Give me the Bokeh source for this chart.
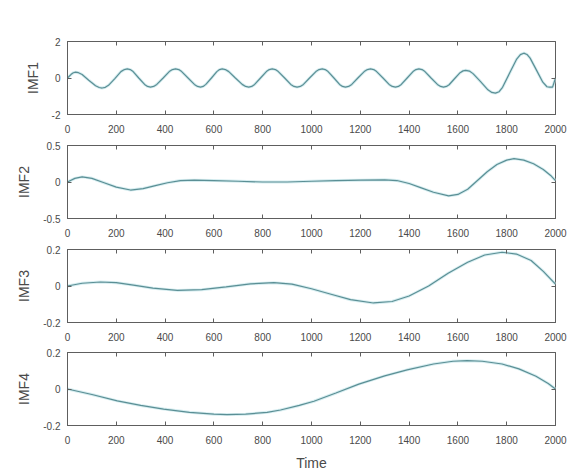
from bokeh.plotting import figure
from bokeh.layouts import column
from bokeh.models import Range1d, FixedTicker, LinearAxis, CustomJSTickFormatter
from bokeh.embed import file_html
from bokeh.resources import INLINE

# ---------------- data ----------------
x_ticks = [0, 200, 400, 600, 800, 1000, 1200, 1400, 1600, 1800, 2000]
labels = ["IMF1", "IMF2", "IMF3", "IMF4"]
y_limits = [(-2, 2), (-0.5, 0.5), (-0.2, 0.2), (-0.2, 0.2)]
y_ticks = [[-2, 0, 2], [-0.5, 0, 0.5], [-0.2, 0, 0.2], [-0.2, 0, 0.2]]

imf1_t = [0, 15, 24, 33, 45, 60, 87, 115, 130, 142, 155, 168, 194, 219, 233,
          245, 257, 269, 292, 316, 328, 340, 353, 366, 392, 417, 430, 443, 456,
          468, 494, 520, 533, 545, 556, 567, 590, 612, 623, 634, 647, 661, 688,
          716, 730, 743, 755, 767, 791, 815, 827, 839, 852, 864, 890, 915, 928,
          941, 954, 967, 992, 1018, 1031, 1044, 1056, 1068, 1092, 1115, 1127,
          1139, 1152, 1165, 1190, 1216, 1229, 1242, 1255, 1267, 1293, 1318, 1331,
          1344, 1356, 1368, 1392, 1416, 1428, 1440, 1453, 1465, 1490, 1516, 1529,
          1541, 1553, 1564, 1586, 1609, 1621, 1632, 1647, 1662, 1693, 1723, 1739,
          1754, 1769, 1783, 1812, 1841, 1856, 1870, 1883, 1896, 1922, 1948, 1965,
          1975, 1988, 2000]
imf1_v = [0.0, 0.2, 0.29, 0.32, 0.29, 0.19, -0.12, -0.42, -0.52, -0.55, -0.51,
          -0.4, -0.03, 0.35, 0.46,
          0.5, 0.46, 0.35, 0.0, -0.35, -0.46, -0.5, -0.46, -0.35, 0.0, 0.35, 0.46,
          0.5, 0.46,
          0.35, 0.0, -0.35, -0.46, -0.5, -0.46, -0.35, 0.0, 0.35, 0.46, 0.5, 0.46,
          0.35, 0.0,
          -0.35, -0.46, -0.5, -0.46, -0.35, 0.0, 0.35, 0.46, 0.5, 0.46, 0.35, 0.0,
          -0.35, -0.46,
          -0.5, -0.46, -0.35, 0.0, 0.35, 0.46, 0.5, 0.46, 0.35, 0.0, -0.35, -0.46,
          -0.5, -0.46, -0.35, 0.0, 0.35, 0.46, 0.5, 0.46, 0.35, 0.0, -0.35, -0.46,
          -0.5, -0.46, -0.35, 0.0, 0.35, 0.46, 0.5, 0.46, 0.35, 0.0, -0.35, -0.46,
          -0.5, -0.46, -0.37, -0.04, 0.29, 0.39, 0.42, 0.38, 0.24, -0.2, -0.65,
          -0.79,
          -0.83, -0.75, -0.51, 0.27, 1.04, 1.28, 1.36, 1.29, 1.09, 0.43, -0.23,
          -0.48,
          -0.5, -0.5, 0.0]

imf2_t = [0, 30, 60, 100, 150, 200, 258, 310, 360, 410, 463, 520, 600, 700, 800,
          900, 1000, 1100, 1200, 1300, 1350, 1400, 1450, 1500, 1562, 1600, 1640,
          1680, 1720, 1760, 1800, 1830, 1870, 1910, 1950, 1980, 2000]
imf2_v = [0.0, 0.05, 0.07, 0.05, -0.01, -0.07, -0.11, -0.09, -0.05, -0.01, 0.02,
          0.025, 0.02, 0.01, 0.0, 0.0, 0.01, 0.02, 0.025, 0.03, 0.02, -0.02, -0.08,
          -0.14, -0.19, -0.17, -0.1, 0.02, 0.14, 0.24, 0.3, 0.32, 0.3, 0.25, 0.17,
          0.09, 0.02]

imf3_t = [0, 60, 135, 200, 270, 350, 450, 550, 650, 750, 846, 920, 1000, 1080,
          1160, 1254, 1330, 1400, 1480, 1560, 1640, 1710, 1781, 1840, 1900, 1950,
          2000]
imf3_v = [0.0, 0.015, 0.022, 0.018, 0.005, -0.012, -0.024, -0.02, -0.005, 0.012,
          0.018, 0.01, -0.015, -0.045, -0.075, -0.093, -0.085, -0.055, 0.0, 0.07,
          0.13, 0.17, 0.185, 0.175, 0.14, 0.08, 0.01]

imf4_t = [0, 100, 204, 300, 394, 500, 600, 654, 730, 818, 873, 950, 1010, 1100,
          1194, 1300, 1392, 1500, 1580, 1638, 1700, 1781, 1850, 1920, 1970, 2000]
imf4_v = [0.0, -0.03, -0.065, -0.09, -0.11, -0.128, -0.138, -0.14, -0.138,
          -0.128, -0.115, -0.09, -0.067, -0.022, 0.027, 0.072, 0.105, 0.137,
          0.152, 0.155, 0.152, 0.137, 0.11, 0.07, 0.03, 0.0]

series_t = [imf1_t, imf2_t, imf3_t, imf4_t]
series_v = [imf1_v, imf2_v, imf3_v, imf4_v]

# ---------------- styling ----------------
FONT = "Liberation Sans"
FRAME = "#5e5e5e"
TXT = "#4a4a4a"
LINE = "#5b8f95"
HALO = "#d6edf0"

figs = []
for i in range(4):
    top = 41 if i == 0 else 4
    bottom = 48 if i == 3 else (26 if i == 2 else 27)
    p = figure(frame_width=488, frame_height=73,
               min_border_left=67, min_border_right=12,
               min_border_top=top, min_border_bottom=bottom,
               x_range=Range1d(0, 2000), y_range=Range1d(*y_limits[i]),
               output_backend="svg", toolbar_location=None)
    p.xgrid.visible = False
    p.ygrid.visible = False
    p.outline_line_color = FRAME
    p.outline_line_width = 1
    p.background_fill_color = "white"
    p.border_fill_color = "white"

    p.line(series_t[i], series_v[i], line_color=HALO, line_width=3)
    p.line(series_t[i], series_v[i], line_color=LINE, line_width=1.2)

    fmt = CustomJSTickFormatter(code="return (Math.round(tick*100)/100).toString();")

    xa = p.xaxis[0]
    xa.ticker = FixedTicker(ticks=x_ticks)
    ya = p.yaxis[0]
    ya.ticker = FixedTicker(ticks=y_ticks[i])
    ya.formatter = fmt
    ya.axis_label = labels[i]
    for ax in (xa, ya):
        ax.axis_line_color = FRAME
        ax.major_tick_line_color = FRAME
        ax.major_tick_in = 4
        ax.major_tick_out = 0
        ax.minor_tick_line_color = None
        ax.major_label_text_font = FONT
        ax.major_label_text_font_size = "10px"
        ax.major_label_text_color = TXT
        ax.axis_label_text_font = FONT
        ax.axis_label_text_font_size = "14px"
        ax.axis_label_text_font_style = "normal"
        ax.axis_label_text_color = TXT
    xa.major_label_standoff = 10
    ya.major_label_standoff = 7
    ya.axis_label_standoff = 8
    if i == 3:
        xa.axis_label = "Time"
        xa.axis_label_standoff = 8

    ta = LinearAxis(ticker=FixedTicker(ticks=x_ticks), major_label_text_color=None,
                    major_label_standoff=0, major_tick_in=4, major_tick_out=0,
                    major_tick_line_color=FRAME, minor_tick_line_color=None,
                    axis_line_color=None)
    ra = LinearAxis(ticker=FixedTicker(ticks=y_ticks[i]), major_label_text_color=None,
                    major_label_standoff=0, major_tick_in=4, major_tick_out=0,
                    major_tick_line_color=FRAME, minor_tick_line_color=None,
                    axis_line_color=None)
    p.add_layout(ta, "above")
    p.add_layout(ra, "right")
    figs.append(p)

layout = column(*figs, spacing=0)
open("out.html", "w").write(file_html(layout, INLINE))
